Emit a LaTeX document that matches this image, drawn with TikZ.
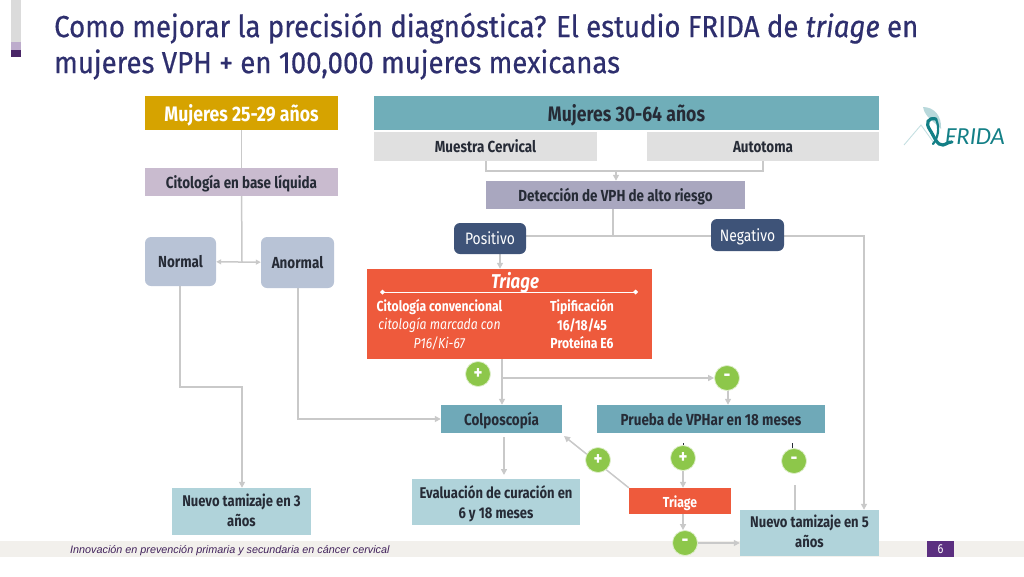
\documentclass[tikz,border=0pt]{standalone}
\usepackage{fontspec}
\usetikzlibrary{arrows.meta,backgrounds,calc}
\setmainfont[FakeStretch=0.84]{Fira Sans}
\newfontfamily\titlefont[FakeStretch=0.905,FakeBold=0.5]{Fira Sans}
\newfontfamily\footfont{Liberation Sans}
\newfontfamily\logofont{Carlito}
\newcommand{\lowline}[2]{\raisebox{-#1pt}[0.7em][0.2em]{#2}}
\definecolor{gold}{HTML}{D6A300}
\definecolor{lila}{HTML}{C9BBCF}
\definecolor{bluegrey}{HTML}{B8C3D6}
\definecolor{teal1}{HTML}{70AEB9}
\definecolor{teal2}{HTML}{6FA9B8}
\definecolor{pale}{HTML}{B0D3DA}
\definecolor{lightg}{HTML}{E0E0E0}
\definecolor{slate}{HTML}{A9A7BF}
\definecolor{navy}{HTML}{3E5378}
\definecolor{redor}{HTML}{EE5A3C}
\definecolor{leaf}{HTML}{8DC74A}
\definecolor{inkd}{HTML}{262B36}
\definecolor{titlec}{HTML}{2E2F6E}
\definecolor{linec}{HTML}{C9C9C9}
\definecolor{band}{HTML}{F2F0EC}
\definecolor{purp}{HTML}{5B2F80}
\definecolor{logot}{HTML}{137F86}
\tikzset{
  px/.style={x=1pt,y=-1pt},
  boxx/.style n args={2}{minimum width=#1pt,minimum height=#2pt,inner sep=0pt,align=center,text=inkd,font=\bfseries\fontsize{16}{20}\selectfont},
  low/.style={text height=15.5pt,text depth=3pt},
  two/.style={font=\bfseries\fontsize{15.5}{20}\selectfont},
  big/.style={font=\bfseries\fontsize{21}{24}\selectfont,text height=20pt,text depth=4pt},
  roundb/.style={rounded corners=6pt,fill=bluegrey},
  roundn/.style={rounded corners=6pt,fill=navy,text=white,font=\fontsize{16.5}{20}\selectfont},
  conn/.style={draw=linec,line width=1.5pt},
  arr/.style={conn,-{Triangle[length=6pt,width=6pt,fill=linec]}},
  dbl/.style={conn,{Triangle[length=5pt,width=5pt,fill=linec]}-{Triangle[length=5pt,width=5pt,fill=linec]}},
  sign/.style={circle,fill=leaf,draw=white!70!leaf,line width=0.8pt,minimum size=25pt,inner sep=0pt,text=white,font=\bfseries\fontsize{20}{20}\selectfont},
  trit/.style={inner sep=0pt,text=white,align=center,font=\fontsize{14.5}{18.5}\selectfont},
  tick/.style={draw=inkd,line width=0.8pt},
}
\begin{document}
\begin{tikzpicture}[px]
\useasboundingbox (0,0) rectangle (1024,576);
% title
\node (title) [anchor=north west,inner sep=0pt,text=titlec,align=left,font=\titlefont\fontsize{30.5}{36}\selectfont] at (54,12.5)
  {Como mejorar la precisión diagnóstica? El estudio FRIDA de \textit{triage} en\\mujeres VPH + en 100,000 mujeres mexicanas};
% nodes
\node (b25) [boxx={193}{34},fill=gold,text=white,big] at (241.5,113) {Mujeres 25-29 años};
\node (cit) [boxx={193}{28},fill=lila,low] at (241.5,182) {Citología en base líquida};
\node (norm) [boxx={71}{49},roundb,low] at (180.5,261.5) {Normal};
\node (anor) [boxx={73}{51},roundb,low] at (297.5,262.5) {Anormal};
\node (b30) [boxx={505}{34},fill=teal1,big] at (626.5,113) {Mujeres 30-64 años};
\node (mc) [boxx={223}{29},fill=lightg,low] at (485.5,146.5) {Muestra Cervical};
\node (auto) [boxx={232}{29},fill=lightg,low] at (763,146.5) {Autotoma};
\node (det) [boxx={259}{28},fill=slate,low] at (615.5,195) {Detección de VPH de alto riesgo};
\node (pos) [boxx={72}{31},roundn,low] at (490,238.5) {Positivo};
\node (neg) [boxx={73}{32},roundn,low] at (747.5,235) {Negativo};
\node (tri) [boxx={285}{90},fill=redor] at (509.5,314) {};
\node (trih) [trit,font=\bfseries\itshape\fontsize{20}{22}\selectfont] at (515,283) {Triage};
\coordinate (tl) at (380,292);
\coordinate (tr) at (638,292);
\draw[white,line width=1pt,{Diamond[length=5pt,width=5pt]}-{Diamond[length=5pt,width=5pt]}] (tl) -- (tr);
\node (tleft) [trit] at (439.5,324.5) {\textbf{Citología convencional}\\\textit{citología marcada con}\\\textit{P16/Ki-67}};
\node (tright) [trit] at (582,324.5) {\textbf{Tipificación}\\\textbf{16/18/45}\\\textbf{Proteína E6}};
\node (colp) [boxx={121}{28},fill=teal2,low] at (501.5,419) {Colposcopía};
\node (prueba) [boxx={228}{28},fill=teal2,low] at (711,419) {Prueba de VPHar en 18 meses};
\node (eval) [boxx={168}{46},fill=pale,two] at (496,502) {\lowline{3}{Evaluación de curación en}\\\lowline{3}{6 y 18 meses}};
\node (tsm) [boxx={102}{26},fill=redor,text=white,font=\bfseries\fontsize{14.5}{18}\selectfont,low] at (680,501) {Triage};
\node (n5) [boxx={139}{46},fill=pale,two] at (809.5,533) {\lowline{1}{Nuevo tamizaje en 5}\\\lowline{1}{años}};
\node (n3) [boxx={139}{47},fill=pale,two] at (241.5,511.5) {\lowline{1.5}{Nuevo tamizaje en 3}\\\lowline{1.5}{años}};
\node (p1) [sign] at (478,374) {+};
\node (m1) [sign] at (727,378) {-};
\node (p2) [sign] at (598,460) {+};
\node (p3) [sign] at (683,458) {+};
\node (m2) [sign] at (794,461) {-};
\node (m3) [sign] at (685,543) {-};
\node (foot) [anchor=west,inner sep=0pt,text=purp!70!black,font=\footfont\itshape\fontsize{10.8}{12}\selectfont] at (70,551) {Innovación en prevención primaria y secundaria en cáncer cervical};
\node (pg) [minimum width=27pt,minimum height=16pt,inner sep=0pt,fill=purp,text=white,font=\fontsize{13}{13}\selectfont] at (940.5,549) {6};
% logo
\node (frida) [anchor=west,inner sep=0pt,text=logot,font=\logofont\itshape\fontsize{24.5}{25}\selectfont] at (945,137) {FRIDA};
\fill[logot!30!white] (923,107) .. controls (934,107) and (942,116) .. (941,129) .. controls (935,122) and (925,118) .. (923,107) -- cycle;
\draw[logot!25!white,line width=0.9pt] (904,145) -- (921,125) -- (934,143);
\draw[logot,line width=3.2pt,line cap=round] (936,119) .. controls (928,117) and (925,123) .. (930,130) .. controls (934,136) and (937,146) .. (943,145) .. controls (947,144) and (948,142) .. (952,142);
\draw[logot,line width=2.2pt,line cap=round] (936,119) .. controls (940,128) and (938,138) .. (933,144);
% left decoration and connectors below the nodes
\begin{scope}[on background layer]
\fill[band] (0,541) rectangle (1024,557);
\fill[black!14] (11,0) rectangle (21,42);
\fill[purp!40!white] (11,42) rectangle (21,50);
\fill[purp!80!black] (11,50) rectangle (21,57);
\coordinate (jc) at (242,262);
\draw[conn] (b25) -- (cit);
\draw[conn] (cit) -- (jc);
\draw[dbl] (norm) -- (anor);
\coordinate (na) at (180,387);
\coordinate (nb) at (242,387);
\draw[arr] (norm.south -| na) -- (na) -- (nb) -- (n3.north -| nb);
\coordinate (aa) at (298,419);
\draw[arr] (anor.south -| aa) -- (aa) -- (colp.west);
\coordinate (ma) at (486,171);
\coordinate (mb) at (763,171);
\coordinate (mm) at (616,171);
\draw[conn] (mc.south -| ma) -- (ma) -- (mb) -- (auto.south -| mb);
\draw[arr] (mm) -- (det.north -| mm);
\coordinate (da) at (613,236);
\draw[conn] (det.south -| da) -- (da);
\draw[conn] (pos.east |- da) -- (neg.west |- da);
\coordinate (nc) at (864,236);
\draw[arr] (neg.east |- nc) -- (nc) -- (n5.north -| nc);
\coordinate (pa) at (500,254);
\draw[arr] (pos.south -| pa) -- (tri.north -| pa);
\coordinate (ta) at (502,357);
\coordinate (tb) at (502,378);
\draw[arr] (ta) -- (colp.north -| ta);
\draw[arr] (tb) -- (m1.west |- tb);
\coordinate (mx) at (728,390);
\draw[arr] (mx) -- (prueba.north -| mx);
\coordinate (ca) at (504,437);
\coordinate (cb) at (504,475);
\draw[arr] (ca) -- (cb);
\coordinate (ss) at (564,436);
\draw[arr] (tsm.north west) -- (ss);
\draw[arr] (p3) -- (tsm.north -| p3);
\coordinate (tc) at (683,514);
\draw[arr] (tc) -- (m3.north -| tc);
\draw[arr] (m3) -- (n5.west |- m3);
\coordinate (la) at (795,485);
\draw[conn] (la) -- (n5.north -| la);
\coordinate (t1a) at (683,443);
\draw[tick] (t1a) -- (p3.north);
\coordinate (t2a) at (792,443);
\draw[tick] (t2a) -- (m2.north -| t2a);
\end{scope}
\end{tikzpicture}
\end{document}
